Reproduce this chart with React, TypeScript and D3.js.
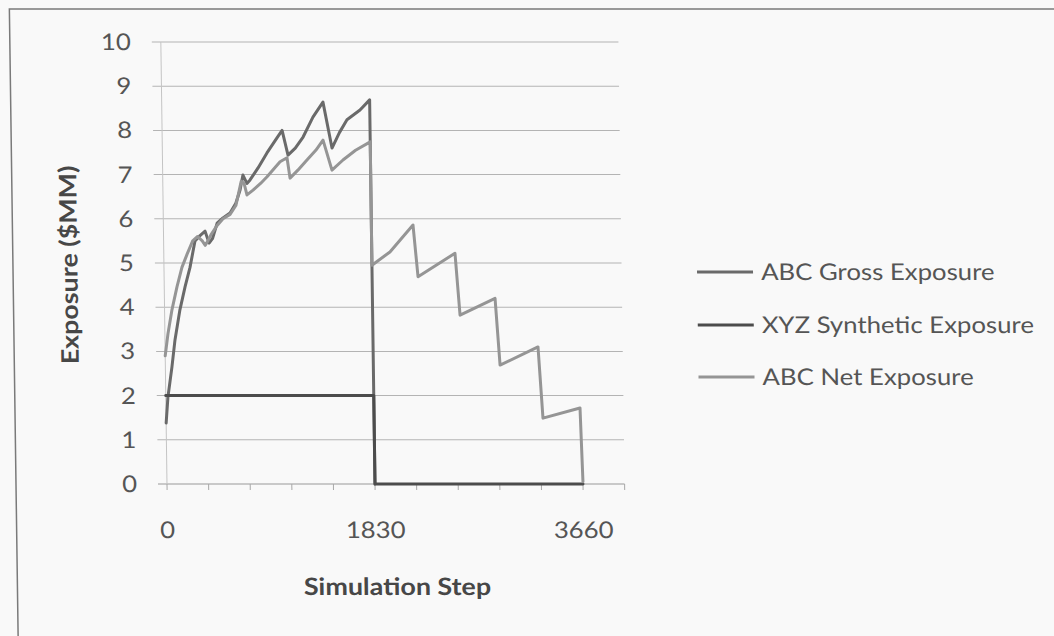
import React from 'react';
import * as d3 from 'd3';

// ---- data ----
const xTickLabels = [0, 1830, 3660];
const xMinorStep = 366;
const xMax = 4026;
const yTicks = [0, 1, 2, 3, 4, 5, 6, 7, 8, 9, 10];
const seriesNames = ['ABC Gross Exposure', 'XYZ Synthetic Exposure', 'ABC Net Exposure'];

const grossExposure: [number, number][] = [
  [0, 1.38], [19, 1.97], [58, 2.65], [88, 3.26], [135, 3.94], [183, 4.46], [229, 4.9],
  [276, 5.5], [321, 5.62], [366, 5.72], [400, 5.45], [430, 5.55], [473, 5.9], [525, 6.02],
  [588, 6.13], [640, 6.35], [679, 6.65], [706, 6.99], [740, 6.8], [768, 6.88], [840, 7.15],
  [920, 7.49], [1010, 7.83], [1056, 8.0], [1105, 7.44], [1170, 7.6], [1240, 7.85],
  [1329, 8.3], [1419, 8.64], [1493, 7.6], [1560, 7.95], [1628, 8.24], [1744, 8.46],
  [1830, 8.69], [1830, 0],
];

const syntheticExposure: [number, number][] = [
  [0, 2.0], [1830, 2.0], [1830, 0], [3660, 0],
];

const netExposure: [number, number][] = [
  [0, 2.9], [27, 3.4], [65, 3.94], [112, 4.46], [158, 4.9], [205, 5.2], [256, 5.5],
  [300, 5.6], [340, 5.5], [366, 5.4], [390, 5.5], [420, 5.65], [473, 5.85], [525, 6.0],
  [588, 6.1], [640, 6.3], [690, 6.85], [715, 6.8], [739, 6.54], [793, 6.65], [860, 6.8],
  [918, 6.95], [1034, 7.29], [1096, 7.38], [1120, 6.92], [1190, 7.1], [1271, 7.33],
  [1350, 7.55], [1415, 7.78], [1490, 7.1], [1588, 7.33], [1700, 7.55], [1830, 7.74],
  [1830, 4.95], [1990, 5.25], [2196, 5.86], [2234, 4.69], [2562, 5.22], [2599, 3.82],
  [2909, 4.2], [2945, 2.69], [3281, 3.1], [3316, 1.49], [3643, 1.72], [3660, 0.05],
];

const seriesData = [grossExposure, syntheticExposure, netExposure];
const seriesColors = ['#6a6a6a', '#4c4c4c', '#959595'];

// ---- layout ----
const W = 1054;
const H = 636;
const FONT = 'Lato, "DejaVu Sans", sans-serif';
const STRETCH = 1.12;

const x = d3.scaleLinear().domain([0, 3660]).range([167, 583]);
const y = d3.scaleLinear().domain([0, 10]).range([484, 42]);
const line = d3
  .line<[number, number]>()
  .x((d) => x(d[0]))
  .y((d) => y(d[1]));

const minorTicks = d3.range(0, xMax + 1, xMinorStep);

function Label(props: {
  x: number;
  y: number;
  text: string | number;
  anchor?: 'start' | 'middle' | 'end';
  size?: number;
  bold?: boolean;
  rotate?: number;
  fill?: string;
}) {
  const { x: px, y: py, text, anchor = 'start', size = 23, bold = false, rotate = 0, fill = '#555' } = props;
  return (
    <g transform={`translate(${px},${py}) rotate(${rotate}) scale(${STRETCH},1)`}>
      <text
        x={0}
        y={0}
        dy="0.35em"
        textAnchor={anchor}
        fontFamily={FONT}
        fontSize={size}
        fontWeight={bold ? 'bold' : 'normal'}
        fill={fill}
      >
        {text}
      </text>
    </g>
  );
}

export default function App() {
  const baseY = y(0);
  const skew = `translate(0,${baseY}) skewX(0.8) translate(0,${-baseY})`;
  const legendY = [272, 325, 377];
  return (
    <svg
      width={W}
      height={H}
      viewBox={`0 0 ${W} ${H}`}
      style={{ position: 'absolute', left: 0, top: 0, background: '#f9f9f9' }}
    >
      <rect x={0} y={0} width={W} height={H} fill="#f9f9f9" />
      <g transform={skew}>
        {/* chart border */}
        <path d={`M16,${H + 20} L16,9 L${W + 20},9`} fill="none" stroke="#7a7a7a" strokeWidth={1.5} />

        {/* gridlines */}
        {yTicks.map((t) => (
          <line
            key={t}
            x1={158}
            x2={x(xMax)}
            y1={y(t)}
            y2={y(t)}
            stroke={t === 0 ? '#9a9a9a' : '#b4b4b4'}
            strokeWidth={1}
          />
        ))}
        {/* y axis */}
        <line x1={x(0)} x2={x(0)} y1={y(10)} y2={y(0)} stroke="#c4c4c4" strokeWidth={1} />
        {/* x ticks */}
        {minorTicks.map((t) => (
          <line key={t} x1={x(t)} x2={x(t)} y1={y(0)} y2={y(0) + 6} stroke="#a8a8a8" strokeWidth={1} />
        ))}

        {/* y tick labels */}
        {yTicks.map((t) => (
          <Label key={t} x={137} y={y(t)} text={t} anchor="end" />
        ))}
        {/* x tick labels */}
        {xTickLabels.map((t) => (
          <Label key={t} x={x(t)} y={530} text={t} anchor="middle" />
        ))}

        {/* axis titles */}
        <Label x={396} y={587} text="Simulation Step" anchor="middle" size={24} bold fill="#474747" />
        <Label x={72} y={265} text="Exposure ($MM)" anchor="middle" size={24} bold rotate={-90} fill="#474747" />

        {/* series */}
        {seriesData.map((d, i) => (
          <path
            key={i}
            d={line(d) || ''}
            fill="none"
            stroke={seriesColors[i]}
            strokeWidth={3}
            strokeLinejoin="round"
            strokeLinecap="round"
          />
        ))}

        {/* legend */}
        {seriesNames.map((name, i) => (
          <g key={name}>
            <line x1={700} x2={756} y1={legendY[i]} y2={legendY[i]} stroke={seriesColors[i]} strokeWidth={3} />
            <Label x={764} y={legendY[i]} text={name} />
          </g>
        ))}
      </g>
    </svg>
  );
}
